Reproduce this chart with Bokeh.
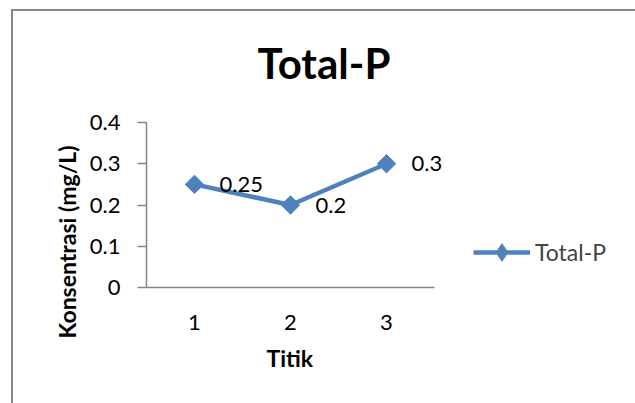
from bokeh.plotting import figure
from bokeh.models import (Range1d, FixedTicker, Legend, LegendItem,
                          LabelSet, ColumnDataSource, Title)
from bokeh.embed import file_html
from bokeh.resources import INLINE
from bokeh.core.properties import value
import numpy as np

# ---- data ----
categories = ["1", "2", "3"]
values = [0.25, 0.2, 0.3]
value_labels = ["0.25", "0.2", "0.3"]
y_ticks = [0, 0.1, 0.2, 0.3, 0.4]
y_tick_labels = ["0", "0.1", "0.2", "0.3", "0.4"]
series_name = "Total-P"
title_text = "Total-P"
x_title = "Titik"
y_title = "Konsentrasi (mg/L)"

FONT = "Lato"
BLUE = "#4F81BD"
GREY = "#868686"

# category positions on a numeric axis (category i sits at i+1)
x_pos = [i + 1 for i in range(len(categories))]
src = ColumnDataSource(dict(x=x_pos, y=values, lab=value_labels))

# frame: x 146..626 (96 px per category); axis line limited to the 3 categories
p = figure(width=635, height=403,
           x_range=Range1d(0.5, 5.5),
           y_range=Range1d(0, 0.4),
           output_backend="svg", toolbar_location=None,
           min_border_left=146, min_border_right=9,
           min_border_top=122, min_border_bottom=116)

p.outline_line_color = None
p.grid.visible = False
p.background_fill_color = "white"
p.border_fill_color = "white"

# chart-area border (only top and left edges fall inside the window)
p.stylesheets = [
    ":host { position: relative; }"
    ":host::after { content: ''; position: absolute; left: 11px; top: 9px; right: 0; bottom: 0;"
    " border-top: 2px solid #878787; border-left: 2px solid #878787; pointer-events: none; }"
]

# title
p.title.text = title_text
p.title.align = "left"
p.title.offset = 111
p.title.standoff = 70
p.title.text_font = FONT
p.title.text_font_size = "42px"
p.title.text_font_style = "bold"
p.title.text_color = "black"

# x axis
xa = p.xaxis[0]
xa.ticker = FixedTicker(ticks=x_pos)
xa.major_label_overrides = {x: c for x, c in zip(x_pos, categories)}
xa.bounds = (0.5, len(categories) + 0.5)
xa.axis_line_color = GREY
xa.axis_line_width = 1.5
xa.major_tick_line_color = None
xa.minor_tick_line_color = None
xa.major_label_text_font = FONT
xa.major_label_text_font_size = "22px"
xa.major_label_text_color = "black"
xa.major_label_standoff = 21

xtitle = Title(text=x_title, align="left", offset=120, standoff=19,
               text_font=FONT, text_font_size="23px", text_font_style="bold",
               text_color="black")
p.add_layout(xtitle, "below")

# y axis
ya = p.yaxis[0]
ya.ticker = FixedTicker(ticks=y_ticks)
ya.major_label_overrides = {t: l for t, l in zip(y_ticks, y_tick_labels)}
ya.axis_line_color = GREY
ya.axis_line_width = 1.5
ya.major_tick_line_color = GREY
ya.major_tick_line_width = 1.5
ya.major_tick_out = 9
ya.major_tick_in = 0
ya.minor_tick_line_color = None
ya.major_label_text_font = FONT
ya.major_label_text_font_size = "22px"
ya.major_label_text_color = "black"
ya.major_label_standoff = 17

ytitle = Title(text=y_title, align="left", offset=-51, standoff=12,
               text_font=FONT, text_font_size="23px", text_font_style="bold",
               text_color="black")
p.add_layout(ytitle, "left")

# series
line_r = p.line("x", "y", source=src, line_color=BLUE, line_width=4.5, line_join="round")
# diamond swatch for the legend; hidden beneath the rotated-square markers in the plot
legend_mark = p.scatter("x", "y", source=src, marker="diamond", size=16,
                        fill_color=BLUE, line_color=BLUE)
mark_r = p.scatter("x", "y", source=src, marker="square", angle=np.pi / 4, size=13,
                   fill_color=BLUE, line_color=BLUE)

labels = LabelSet(x="x", y="y", text="lab", source=src, x_offset=25,
                  text_baseline="middle", text_font=value(FONT),
                  text_font_size="22px", text_color="black")
p.add_layout(labels)

legend = Legend(items=[LegendItem(label=value(series_name), renderers=[line_r, legend_mark])],
                location=(327, 13), glyph_width=57, glyph_height=44,
                label_text_font=FONT, label_text_font_size="23px",
                border_line_color=None, background_fill_alpha=0,
                padding=0, margin=0, label_standoff=5)
p.add_layout(legend)

open("out.html", "w").write(file_html(p, INLINE))
